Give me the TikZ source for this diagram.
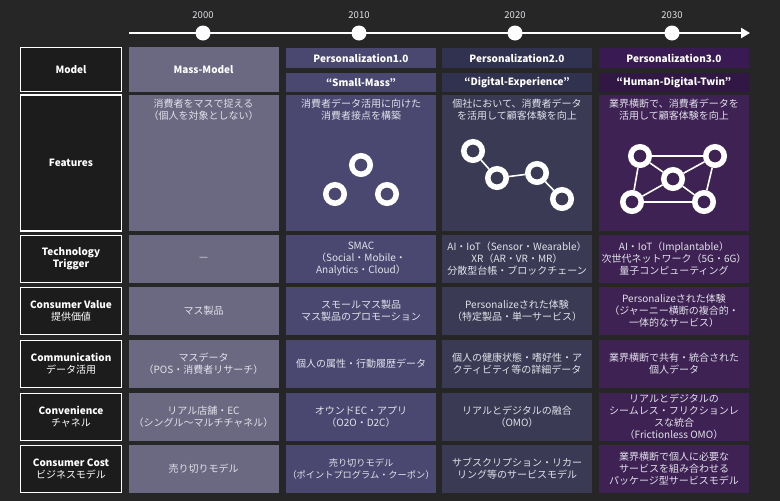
\documentclass[tikz,border=0pt]{standalone}
\usepackage{fontspec}
\setmainfont{Noto Sans CJK JP}
\usetikzlibrary{arrows.meta,positioning,calc,backgrounds}
\definecolor{bgdark}{HTML}{262626}
\definecolor{rowbg}{HTML}{1C1C1C}
\definecolor{massfill}{HTML}{6B6882}
\definecolor{ponefill}{HTML}{4A4870}
\definecolor{ptwofill}{HTML}{3A3A55}
\definecolor{ptwohead}{HTML}{313150}
\definecolor{pthreefill}{HTML}{3E2254}
\definecolor{pthreehead}{HTML}{3A1A52}
\definecolor{pthreesub}{HTML}{311744}
\definecolor{txtlight}{HTML}{E2E2EA}

\begin{document}
\begin{tikzpicture}[x=1pt,y=-1pt,
	rowhead/.style={draw=white,line width=1.4pt,fill=rowbg,inner sep=0pt,minimum width=101pt,text=white,align=center,font=\fontsize{10}{12}\selectfont},
	cell/.style={inner sep=0pt,minimum width=150pt,minimum height=48pt,text=txtlight,align=center,font=\fontsize{10}{12}\selectfont},
	headcell/.style={cell,text=white,font=\bfseries\fontsize{10}{12}\selectfont},
	feattext/.style={cell,minimum height=0pt,anchor=north},
	yeardot/.style={circle,fill=white,inner sep=0pt,minimum size=15pt},
	yeartext/.style={text=txtlight,font=\fontsize{9.5}{11}\selectfont},
	ring/.style={circle,draw=white,line width=5.5pt,minimum size=18.5pt,inner sep=0pt},
	link/.style={white,line width=1.6pt}]
	\fill[bgdark] (0,0) rectangle (780,501);
	% timeline
	\coordinate (tstart) at (129,33);
	\coordinate (tend) at (750,33);
	\draw[white,line width=2.4pt,-{Triangle[length=9pt,width=10pt]}] (tstart)--(tend);
	\node[yeardot] (d2000) at (203,33) {};
	\node[yeardot] (d2010) at (359,33) {};
	\node[yeardot] (d2020) at (515,33) {};
	\node[yeardot] (d2030) at (672,33) {};
	\node[yeartext,above=3pt of d2000] (t2000) {2000};
	\node[yeartext,above=3pt of d2010] (t2010) {2010};
	\node[yeartext,above=3pt of d2020] (t2020) {2020};
	\node[yeartext,above=3pt of d2030] (t2030) {2030};
	% row heads
	\node[rowhead,minimum height=44pt] (hmodel) at (71,69.5) {\bfseries Model};
	\node[rowhead,minimum height=136pt] (hfeat) at (71,163) {\bfseries Features};
	\node[rowhead,minimum height=47pt] (htech) at (71,259) {\bfseries Technology\\\bfseries Trigger};
	\node[rowhead,minimum height=47pt] (hvalue) at (71,311) {\bfseries Consumer Value\\提供価値};
	\node[rowhead,minimum height=47pt] (hcomm) at (71,364) {\bfseries Communication\\データ活用};
	\node[rowhead,minimum height=47pt] (hconv) at (71,417) {\bfseries Convenience\\チャネル};
	\node[rowhead,minimum height=47pt] (hcost) at (71,469) {\bfseries Consumer Cost\\ビジネスモデル};
	% Mass-Model
	\node[headcell,fill=massfill,minimum height=45pt] (mmodel) at (203.5,69.5) {Mass-Model};
	\node[cell,fill=massfill,minimum height=136pt] (mfeat) at (203.5,163) {};
	\node[feattext] (mfeattxt) at (203.5,99) {消費者をマスで捉える\\（個人を対象としない）};
	\node[cell,fill=massfill] (mtech) at (203.5,259) {—};
	\node[cell,fill=massfill] (mvalue) at (203.5,311) {マス製品};
	\node[cell,fill=massfill] (mcomm) at (203.5,364) {マスデータ\\（POS・消費者リサーチ）};
	\node[cell,fill=massfill] (mconv) at (203.5,417) {リアル店舗・EC\\（シングル〜マルチチャネル）};
	\node[cell,fill=massfill] (mcost) at (203.5,469) {売り切りモデル};
	% Personalization1.0
	\node[headcell,fill=ponefill,minimum height=20pt] (amodel) at (361,58) {Personalization1.0};
	\node[headcell,fill=ponefill,minimum height=19pt] (asub) at (361,82.5) {“Small-Mass”};
	\node[cell,fill=ponefill,minimum height=136pt] (afeat) at (361,163) {};
	\node[feattext] (afeattxt) at (361,99) {消費者データ活用に向けた\\消費者接点を構築};
	\node[cell,fill=ponefill] (atech) at (361,259) {SMAC\\（Social・Mobile・\\Analytics・Cloud）};
	\node[cell,fill=ponefill] (avalue) at (361,311) {スモールマス製品\\マス製品のプロモーション};
	\node[cell,fill=ponefill] (acomm) at (361,364) {個人の属性・行動履歴データ};
	\node[cell,fill=ponefill] (aconv) at (361,417) {オウンドEC・アプリ\\（O2O・D2C）};
	\node[cell,fill=ponefill,font=\fontsize{9.2}{12}\selectfont] (acost) at (361,469) {売り切りモデル\\（ポイントプログラム・クーポン）};
	\node[ring] (ar1) at (361,165) {};
	\node[ring] (ar2) at (335,194) {};
	\node[ring] (ar3) at (387,194) {};
	% Personalization2.0
	\node[headcell,fill=ptwohead,minimum height=20pt] (bmodel) at (517,58) {Personalization2.0};
	\node[headcell,fill=ptwohead,minimum height=19pt] (bsub) at (517,82.5) {“Digital-Experience”};
	\node[cell,fill=ptwofill,minimum height=136pt] (bfeat) at (517,163) {};
	\node[feattext] (bfeattxt) at (517,99) {個社において、消費者データ\\を活用して顧客体験を向上};
	\node[cell,fill=ptwofill] (btech) at (517,259) {AI・IoT（Sensor・Wearable）\\XR（AR・VR・MR）\\分散型台帳・ブロックチェーン};
	\node[cell,fill=ptwofill] (bvalue) at (517,311) {Personalizeされた体験\\（特定製品・単一サービス）};
	\node[cell,fill=ptwofill] (bcomm) at (517,364) {個人の健康状態・嗜好性・ア\\クティビティ等の詳細データ};
	\node[cell,fill=ptwofill] (bconv) at (517,417) {リアルとデジタルの融合\\（OMO）};
	\node[cell,fill=ptwofill] (bcost) at (517,469) {サブスクリプション・リカー\\リング等のサービスモデル};
	\node[ring] (br1) at (473,151) {};
	\node[ring] (br2) at (497,178) {};
	\node[ring] (br3) at (537,173) {};
	\node[ring] (br4) at (562,199) {};
	\draw[link] (br1)--(br2);
	\draw[link] (br2)--(br3);
	\draw[link] (br3)--(br4);
	% Personalization3.0
	\node[headcell,fill=pthreehead,minimum height=20pt] (cmodel) at (674,58) {Personalization3.0};
	\node[headcell,fill=pthreesub,minimum height=19pt] (csub) at (674,82.5) {“Human-Digital-Twin”};
	\node[cell,fill=pthreefill,minimum height=136pt] (cfeat) at (674,163) {};
	\node[feattext] (cfeattxt) at (674,99) {業界横断で、消費者データを\\活用して顧客体験を向上};
	\node[cell,fill=pthreefill] (ctech) at (674,259) {AI・IoT（Implantable）\\次世代ネットワーク（5G・6G）\\量子コンピューティング};
	\node[cell,fill=pthreefill] (cvalue) at (674,311) {Personalizeされた体験\\（ジャーニー横断の複合的・\\一体的なサービス）};
	\node[cell,fill=pthreefill] (ccomm) at (674,364) {業界横断で共有・統合された\\個人データ};
	\node[cell,fill=pthreefill] (cconv) at (674,417) {リアルとデジタルの\\シームレス・フリクションレ\\スな統合\\（Frictionless OMO）};
	\node[cell,fill=pthreefill] (ccost) at (674,469) {業界横断で個人に必要な\\サービスを組み合わせる\\パッケージ型サービスモデル};
	\node[ring] (ctl) at (640,156) {};
	\node[ring] (ctr) at (715,156) {};
	\node[ring] (cmid) at (673,179) {};
	\node[ring] (cbl) at (632,202) {};
	\node[ring] (cbr) at (704,202) {};
	\draw[link] (ctl)--(ctr);
	\draw[link] (ctl)--(cbl);
	\draw[link] (ctr)--(cbr);
	\draw[link] (cbl)--(cbr);
	\draw[link] (ctl)--(cmid);
	\draw[link] (ctr)--(cmid);
	\draw[link] (cmid)--(cbl);
	\draw[link] (cmid)--(cbr);
\end{tikzpicture}
\end{document}
